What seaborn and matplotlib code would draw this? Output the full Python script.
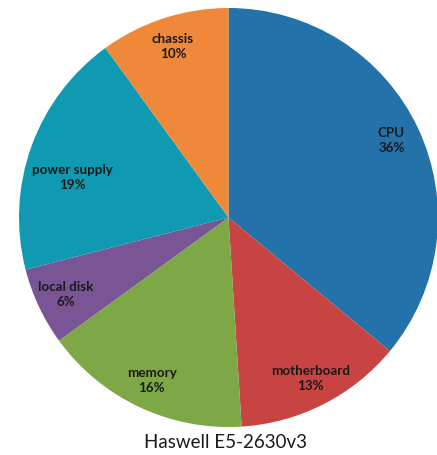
import matplotlib
matplotlib.use("Agg")
import matplotlib.pyplot as plt
import numpy as np
import seaborn as sns

categories = ["CPU", "motherboard", "memory", "local disk", "power supply", "chassis"]
values = [36, 13, 16, 6, 19, 10]
colors = ["#2372AA", "#C84442", "#7EA845", "#7A5596", "#0F9AB2", "#F0883A"]
title = "Haswell E5-2630v3"

sns.set_theme(style="white")
plt.rcParams['font.family'] = ['Lato', 'DejaVu Sans']

fig = plt.figure(figsize=(4.37, 4.55), dpi=100)
ax = fig.add_axes([19/437, (455-427)/455, 419/437, 419/455])

labels_iter = iter(categories)

def fmt(p):
    return f"{next(labels_iter)}\n{p:.0f}%"

wedges, texts, autotexts = ax.pie(
    values, colors=colors, startangle=90, counterclock=False,
    autopct=fmt, pctdistance=0.86, radius=1,
    wedgeprops=dict(linewidth=0, edgecolor='none'),
    textprops=dict(fontsize=9.6, fontweight='bold', color='#1a1a1a', linespacing=1.3),
)
# Excel-style "best fit" placement pulls the power supply label inward
idx = categories.index("power supply")
ang = np.deg2rad(165.5)
autotexts[idx].set_position((0.77 * np.cos(ang), 0.77 * np.sin(ang)))

ax.set_xlim(-1, 1)
ax.set_ylim(-1, 1)
ax.set_aspect('equal')
ax.axis('off')

fig.text(225/437, 1 - 443/455, title, ha='center', va='center', fontsize=13.5, color='#1a1a1a')

fig.savefig("out.png", dpi=100)
